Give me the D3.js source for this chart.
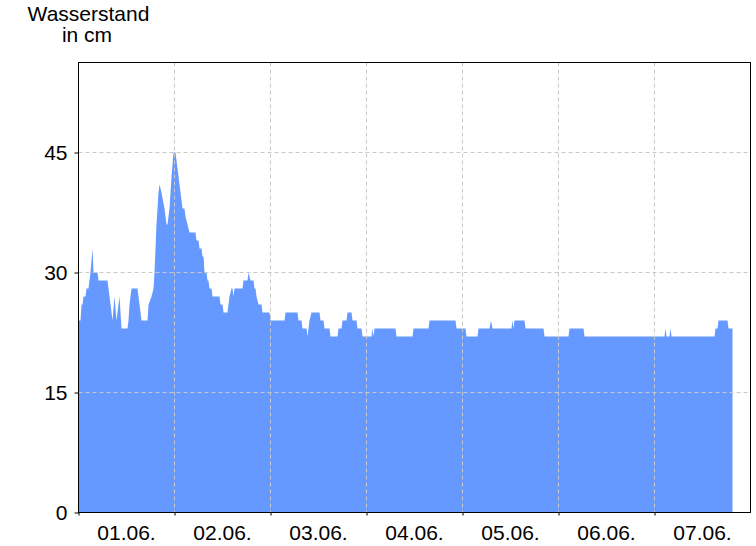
<!DOCTYPE html>
<html>
<head>
<meta charset="utf-8">
<script src="https://cdn.jsdelivr.net/npm/d3@7"></script>
<style>
  html, body { margin: 0; padding: 0; background: #fff; }
  svg { display: block; font-family: "Liberation Sans", Arial, sans-serif; }
</style>
</head>
<body>
<svg id="chart" width="756" height="546"></svg>
<script>
// Hours since 01.06. 00:00 and water level (cm)
const hours = [0,0.5,0.75,1,1.25,1.75,2,2.5,2.75,3,3.5,3.75,4.75,5,7.25,8.5,9,9.5,10.25,10.75,
  12.25,12.5,12.75,13.25,14.75,15.25,15.75,17.25,17.5,18.25,18.75,19,19.5,20,20.25,20.75,21.5,22,22.25,22.75,
  23.25,23.75,24.25,24.5,25,25.5,26,26.5,26.75,27.25,27.75,29.25,29.5,30,30.25,30.75,31,31.25,31.5,32,
  32.25,32.5,32.75,33.25,33.5,35.25,35.5,36,36.25,37.25,37.5,37.75,38.25,38.5,38.75,39,41,41.25,42.25,42.5,
  43,43.75,44,44.25,44.5,45,45.75,46,47.75,48,51.5,51.75,54.75,55,55.75,56,57,57.25,57.5,57.75,
  58.25,60.25,60.5,61.25,61.5,62.75,63,64.75,65,65.75,66,67,67.25,68.25,68.5,69.5,69.75,70.75,71,73.25,
  73.5,73.75,74,79.25,79.5,83.5,83.75,87.5,87.75,94.25,94.5,96.75,97,99.75,100,102.75,103.125,103.5,108.25,108.5,
  108.75,109,111.5,111.75,116.25,116.5,122.5,122.75,126.25,126.5,146.5,146.75,147,147.75,148,148.25,159,159.25,159.75,160,
  162.25,162.5,163.5];
const level = [24,24,26,26,27,27,28,28,29,30,33,30,30,29,29,24,27,24,27,23,
  23,24,26,28,28,26,24,24,26,27,28,30,36,40,41,40,38,36,36,38,
  42,45,45,44,42,40,38,38,37,36,35,35,34,34,33,33,32,32,30,30,
  29,29,28,28,27,27,26,26,25,25,26,27,28,28,27,28,28,29,29,30,
  29,29,28,28,27,26,26,25,25,24,24,25,25,24,24,23,23,22,23,24,
  25,25,24,24,23,23,22,22,23,23,24,24,25,25,24,24,23,23,22,22,
  23,22,23,23,22,22,23,23,24,24,23,23,22,22,23,23,24,23,23,24,
  23,24,24,23,23,22,22,23,23,22,22,23,22,22,23,22,22,23,23,24,
  24,23,23];
const dayLabels = ["01.06.","02.06.","03.06.","04.06.","05.06.","06.06.","07.06."];
const yTicks = [0, 15, 30, 45];
const yMax = 56.25;
const totalHours = 168;

const FS = 21;
const svg = d3.select("#chart");
const L = 78.5, R = 750.5, T = 62.5, B = 512.5;
const x = d3.scaleLinear().domain([0, totalHours]).range([L, R]);
const y = d3.scaleLinear().domain([0, yMax]).range([B, T]);

const data = hours.map((h, i) => ({h, v: level[i]}));

// area
svg.append("path")
  .datum(data)
  .attr("fill", "#6699ff")
  .attr("d", d3.area().x(d => x(d.h)).y0(y(0)).y1(d => y(d.v)));

// gridlines
const dayBounds = d3.range(1, dayLabels.length).map(i => i * 24);
svg.append("g").selectAll("line").data(yTicks.filter(t => t > 0)).join("line")
  .attr("x1", L).attr("x2", R).attr("y1", d => y(d)).attr("y2", d => y(d))
  .attr("stroke", "#c8c8c8").attr("stroke-dasharray", "4,3");
svg.append("g").selectAll("line").data(dayBounds).join("line")
  .attr("x1", d => x(d)).attr("x2", d => x(d)).attr("y1", T).attr("y2", B)
  .attr("stroke", "#c8c8c8").attr("stroke-dasharray", "4,3");

// frame
svg.append("rect").attr("x", L).attr("y", T).attr("width", R - L).attr("height", B - T)
  .attr("fill", "none").attr("stroke", "#000");

// y axis
const yAxis = svg.append("g").attr("transform", `translate(${L},0)`)
  .call(d3.axisLeft(y).tickValues(yTicks).tickSize(4).tickPadding(7).tickFormat(d3.format("d")));
yAxis.select(".domain").remove();
yAxis.selectAll("text").attr("font-size", FS).attr("fill", "#000").attr("font-family", "Liberation Sans, Arial, sans-serif");

// x axis ticks at day bounds
const xAxis = svg.append("g").attr("transform", `translate(0,${B})`)
  .call(d3.axisBottom(x).tickValues(d3.range(0, dayLabels.length).map(i => i * 24)).tickSize(3).tickFormat(""));
xAxis.select(".domain").remove();

// x labels centered on day
svg.append("g").selectAll("text").data(dayLabels).join("text")
  .attr("x", (d, i) => x(i * 24 + 12))
  .attr("y", 540)
  .attr("text-anchor", "middle")
  .attr("font-size", FS)
  .attr("fill", "#000")
  .text(d => d);

// y title
svg.append("text").attr("x", 88.5).attr("y", 21).attr("text-anchor", "middle")
  .attr("font-size", FS).attr("fill", "#000").text("Wasserstand");
svg.append("text").attr("x", 87).attr("y", 42).attr("text-anchor", "middle")
  .attr("font-size", FS).attr("fill", "#000").text("in cm");
</script>
</body>
</html>
